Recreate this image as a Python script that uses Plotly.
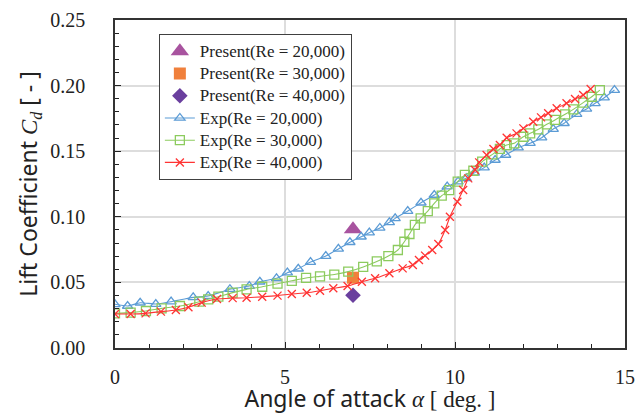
import plotly.graph_objects as go

# ---------------- data ----------------
present_alpha = [7.0]
present_re20k = [0.0905]
present_re30k = [0.0536]
present_re40k = [0.0402]

exp20k_alpha = [0, 0.37, 0.74, 1.2, 1.65, 2.3, 2.74, 3.38, 3.95, 4.26,
                4.75, 5.07, 5.39, 5.75, 6.2, 6.57, 6.91, 7.24, 7.48, 7.79,
                8.07, 8.24, 8.61, 9.0, 9.39, 9.77, 10.09, 10.33, 10.57, 10.86,
                11.18, 11.49, 11.86, 12.21, 12.55, 12.89, 13.21, 13.58, 13.87, 14.12,
                14.39, 14.69]
exp20k_cd = [0.0333, 0.032, 0.0345, 0.0335, 0.0353, 0.0386, 0.0396, 0.0448, 0.0472, 0.0505,
             0.0531, 0.0574, 0.0604, 0.0655, 0.0701, 0.0755, 0.0806, 0.0848, 0.0879, 0.0915,
             0.0958, 0.0988, 0.1044, 0.1107, 0.1166, 0.123, 0.1268, 0.1293, 0.1335, 0.1375,
             0.1433, 0.1471, 0.1527, 0.1561, 0.1603, 0.1669, 0.1713, 0.1782, 0.1822, 0.1865,
             0.1908, 0.1966]

exp30k_alpha = [0, 0.46, 0.91, 1.37, 1.91, 2.48, 2.74, 3.04, 3.46, 3.87,
                4.33, 4.78, 5.2, 5.62, 6.03, 6.45, 6.86, 7.3, 7.7, 8.04,
                8.32, 8.51, 8.66, 8.82, 8.99, 9.2, 9.39, 9.61, 9.83, 10.08,
                10.29, 10.54, 10.8, 11.1, 11.32, 11.52, 11.74, 12.01, 12.21, 12.45,
                12.7, 12.94, 13.24, 13.48, 13.77, 14.02, 14.26]
exp30k_cd = [0.0264, 0.027, 0.0282, 0.0302, 0.032, 0.0353, 0.0371, 0.0391, 0.0422, 0.0447,
             0.0467, 0.049, 0.0512, 0.0534, 0.0546, 0.056, 0.0582, 0.0618, 0.066, 0.0701,
             0.0747, 0.081, 0.0869, 0.0938, 0.0988, 0.1044, 0.1103, 0.1161, 0.1204, 0.1268,
             0.1319, 0.1351, 0.142, 0.1476, 0.1517, 0.1547, 0.156, 0.161, 0.1636, 0.1667,
             0.1705, 0.1738, 0.1781, 0.1819, 0.187, 0.1915, 0.1966]

exp40k_alpha = [0, 0.46, 0.9, 1.35, 1.79, 2.16, 2.55, 3.0, 3.46, 3.87,
                4.33, 4.78, 5.2, 5.64, 6.03, 6.42, 6.84, 7.26, 7.65, 8.07,
                8.46, 8.76, 8.94, 9.12, 9.33, 9.51, 9.71, 9.85, 10.07, 10.24,
                10.39, 10.59, 10.71, 10.93, 11.13, 11.32, 11.52, 11.81, 12.01, 12.3,
                12.53, 12.74, 12.99, 13.28, 13.53, 13.77, 13.99]
exp40k_cd = [0.0259, 0.0259, 0.0264, 0.0277, 0.029, 0.0311, 0.0346, 0.0374, 0.038, 0.0383,
             0.039, 0.0399, 0.0412, 0.0421, 0.0437, 0.0455, 0.0473, 0.0505, 0.0531, 0.057,
             0.0607, 0.0633, 0.0671, 0.0704, 0.0747, 0.0793, 0.0899, 0.1001, 0.1115, 0.1204,
             0.1293, 0.1357, 0.1415, 0.1471, 0.1517, 0.1547, 0.1603, 0.1636, 0.1674, 0.1725,
             0.1758, 0.1789, 0.1827, 0.1865, 0.1898, 0.1928, 0.1974]

x_ticks = [0, 5, 10, 15]
x_tick_labels = ["0", "5", "10", "15"]
y_ticks = [0.0, 0.05, 0.10, 0.15, 0.20, 0.25]
y_tick_labels = ["0.00", "0.05", "0.10", "0.15", "0.20", "0.25"]

# ---------------- figure ----------------
SERIF = "Liberation Serif"
SANS = "Noto Sans"


def leg(name):
    return "<span style='font-size:17px'>" + name + "</span>"


fig = go.Figure()

fig.add_trace(go.Scatter(x=present_alpha, y=present_re20k, mode="markers",
                         name=leg("Present(Re = 20,000)"),
                         marker=dict(symbol="triangle-up", size=16, color="#A8539F")))
fig.add_trace(go.Scatter(x=present_alpha, y=present_re30k, mode="markers",
                         name=leg("Present(Re = 30,000)"),
                         marker=dict(symbol="square", size=12, color="#F0803C")))
fig.add_trace(go.Scatter(x=present_alpha, y=present_re40k, mode="markers",
                         name=leg("Present(Re = 40,000)"),
                         marker=dict(symbol="diamond", size=12, color="#6A3F9E")))

fig.add_trace(go.Scatter(x=exp20k_alpha, y=exp20k_cd, mode="lines+markers",
                         name=leg("Exp(Re = 20,000)"),
                         line=dict(color="#5B9BD5", width=1.1, shape="spline", smoothing=0.5),
                         marker=dict(symbol="triangle-up-open", size=9,
                                     color="#5B9BD5", line=dict(width=1.3, color="#5B9BD5"))))
fig.add_trace(go.Scatter(x=exp30k_alpha, y=exp30k_cd, mode="lines+markers",
                         name=leg("Exp(Re = 30,000)"),
                         line=dict(color="#8CCB5E", width=1.1, shape="spline", smoothing=0.5),
                         marker=dict(symbol="square-open", size=9,
                                     color="#8CCB5E", line=dict(width=1.3, color="#8CCB5E"))))
fig.add_trace(go.Scatter(x=exp40k_alpha, y=exp40k_cd, mode="lines+markers",
                         name=leg("Exp(Re = 40,000)"),
                         line=dict(color="#FF3333", width=1.1, shape="spline", smoothing=0.5),
                         marker=dict(symbol="x-thin-open", size=8,
                                     color="#FF3333", line=dict(width=1.3, color="#FF3333"))))

fig.update_layout(
    width=638, height=414,
    margin=dict(l=115, r=13, t=20, b=66),
    paper_bgcolor="white", plot_bgcolor="white",
    showlegend=True,
    legend=dict(x=0.086, y=0.957, xanchor="left", yanchor="top",
                bgcolor="white", bordercolor="#404040", borderwidth=1,
                font=dict(family=SERIF, size=14.8, color="#222222"),
                tracegroupgap=0, itemwidth=30),
    xaxis=dict(range=[0, 15], tickvals=x_ticks, ticktext=x_tick_labels,
               automargin=False,
               ticks="inside", ticklen=6, tickcolor="#222222",
               minor=dict(dtick=1, ticks="inside", ticklen=4, tickcolor="#222222", showgrid=False),
               showgrid=True, gridcolor="#DDDDDD", gridwidth=1.5,
               showline=True, linecolor="#333333", linewidth=1.5, mirror=True,
               zeroline=False,
               tickfont=dict(family=SERIF, size=20, color="#222222"),
               ticklabelstandoff=10,
               title=dict(text="Angle of attack <span style='font-family:Liberation Serif'><i>α</i> [ deg. ]</span>",
                          font=dict(family=SANS, size=23, color="#222222"), standoff=2)),
    yaxis=dict(range=[0, 0.25], tickvals=y_ticks, ticktext=y_tick_labels,
               automargin=False,
               ticks="inside", ticklen=6, tickcolor="#222222",
               minor=dict(dtick=0.01, ticks="inside", ticklen=4, tickcolor="#222222", showgrid=False),
               showgrid=True, gridcolor="#DDDDDD", gridwidth=1.5,
               showline=True, linecolor="#333333", linewidth=1.5, mirror=True,
               zeroline=False,
               tickfont=dict(family=SERIF, size=20, color="#222222"),
               ticklabelstandoff=24,
               title=dict(text="Lift Coefficient <span style='font-family:Liberation Serif'><i>C<sub>d</sub></i></span> [ - ]",
                          font=dict(family=SANS, size=23, color="#222222"), standoff=6)),
)

fig.write_html("out.html")
